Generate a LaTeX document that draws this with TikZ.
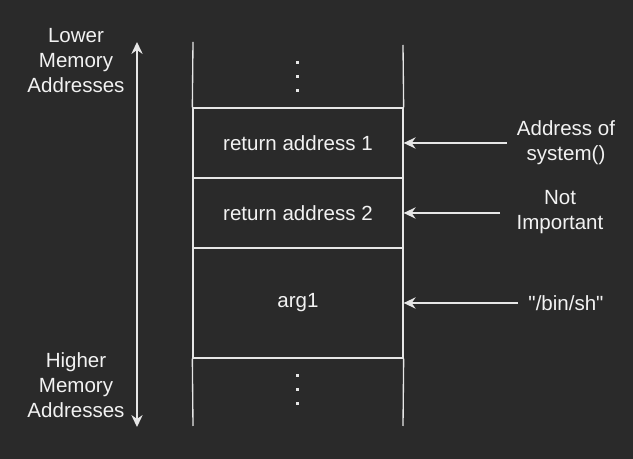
\documentclass[tikz,border=0pt]{standalone}
\usepackage{fontspec}
\setmainfont{Liberation Sans}[Ligatures=TeXOff]
\usetikzlibrary{arrows.meta}
\definecolor{bgc}{HTML}{2A2A2A}
\definecolor{fg}{HTML}{E6E6E6}
\definecolor{txt}{HTML}{F2F2F2}
\begin{document}
\begin{tikzpicture}[x=0.75pt,y=-0.75pt,
  every node/.style={text=txt,font=\fontsize{15.4pt}{18.75pt}\selectfont,align=center,inner sep=0pt},
  line/.style={draw=fg,line width=1pt},
  cell/.style={line,minimum width=157.5pt,inner sep=0pt},
  arr/.style={line,-{Stealth[length=9pt,width=8.5pt,inset=3pt]}},
  dotsq/.style={fill=fg}
]
\fill[bgc] (0,0) rectangle (633,459);
\useasboundingbox (0,0) rectangle (633,459);
% stack cells
\node[cell,minimum height=52.5pt] (c1) at (298,143) {return address 1};
\node[cell,minimum height=52.5pt] (c2) at (298,213) {return address 2};
\node[cell,minimum height=82.5pt] (c3) at (298,303) {arg1};
% open top and bottom walls
\coordinate (tl) at (193,42);
\coordinate (tr) at (403,45);
\coordinate (bl) at (193,426);
\coordinate (br) at (403,426);
\draw[line] (tl) -- (c1.north west);
\draw[line] (tr) -- (c1.north east);
\draw[line] (c3.south west) -- (bl);
\draw[line] (c3.south east) -- (br);
% dots
\foreach \y in {62.5,76.5,90.5,376,390,404}
  \fill[dotsq] (295.5,\y-1.5) rectangle (298.5,\y+1.5);
% left arrow and labels
\node (low) at (76,61) {Lower\\Memory\\Addresses};
\node (high) at (76,385) {Higher\\Memory\\Addresses};
\coordinate (at) at (137,42);
\coordinate (ab) at (137,427);
\draw[line,{Stealth[length=9pt,width=8.5pt,inset=3pt]}-{Stealth[length=9pt,width=8.5pt,inset=3pt]}] (at) -- (ab);
% right labels and arrows
\node (l1) at (566,142.5) {Address of\\system()};
\node (l2) at (560,212) {Not\\Important};
\node (l3) at (566,303) {"/bin/sh"};
\coordinate (s1) at (507,143);
\coordinate (s2) at (500,213);
\coordinate (s3) at (518,303);
\draw[arr] (s1) -- (c1.east);
\draw[arr] (s2) -- (c2.east);
\draw[arr] (s3) -- (c3.east);
\end{tikzpicture}
\end{document}
